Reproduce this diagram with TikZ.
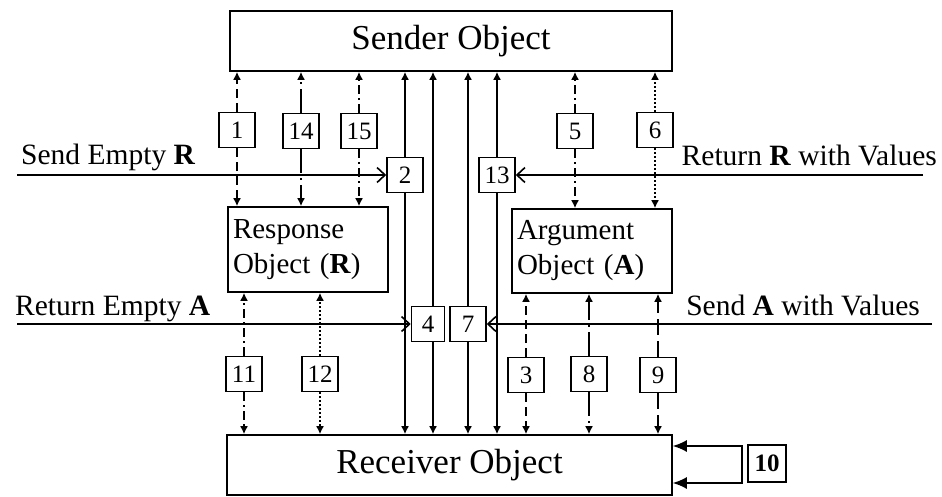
\documentclass[tikz,border=0pt]{standalone}
\usepackage{fontspec}
\setmainfont{Liberation Serif}
\usetikzlibrary{positioning}
\usetikzlibrary{arrows.meta}
\tikzset{
    objbox/.style={draw, line width=1.6pt, inner sep=0pt, font=\fontsize{35}{42}\selectfont},
    msgbox/.style={draw, line width=1.6pt, inner sep=0pt, minimum width=160pt, text width=150pt, align=left, font=\fontsize{29}{35}\selectfont},
    numbox/.style={draw, line width=1.6pt, inner sep=0pt, minimum width=36pt, minimum height=35pt, fill=white, font=\fontsize{25}{30}\selectfont},
    lbl/.style={inner sep=0pt, font=\fontsize{29.5}{35}\selectfont},
    link/.style={line width=1.6pt},
    vtip/.style={-{Latex[length=8pt,width=8pt]}},
    htip/.style={-{Straight Barb[length=8pt,width=15pt]}},
    looptip/.style={{Latex[length=14pt,width=12pt]}-{Latex[length=14pt,width=12pt]}},
    dashA/.style={dash pattern=on 9pt off 5pt},
    dotA/.style={dash pattern=on 2pt off 2pt},
    dashdotA/.style={dash pattern=on 9pt off 4pt on 2pt off 4pt},
    longdashdot/.style={dash pattern=on 24pt off 5pt on 2pt off 5pt},
    longdash/.style={dash pattern=on 16pt off 6pt}
}
\begin{document}
\begin{tikzpicture}[x=1pt,y=-1pt]
    \useasboundingbox (0,0) rectangle (942,496);
    % objects
    \node[objbox, minimum width=442pt, minimum height=60pt] (sender) at (451,41) {Sender Object};
    \node[objbox, minimum width=445pt, minimum height=60pt] (receiver) at (449.5,465) {Receiver Object};
    \node[msgbox, minimum height=85pt] (response) at (308,249.5) {Response\\Object (\textbf{R})};
    \node[msgbox, minimum height=84pt] (argument) at (592,251) {Argument\\Object (\textbf{A})};
    % numbered steps
    \node[numbox] (b1) at (237,130) {1};
    \node[numbox] (b14) at (301,131) {14};
    \node[numbox] (b15) at (359,131) {15};
    \node[numbox] (b5) at (575,131) {5};
    \node[numbox] (b6) at (655,130) {6};
    \node[numbox] (b2) at (405,175) {2};
    \node[numbox] (b13) at (497,175) {13};
    \node[numbox, minimum width=33pt] (b4) at (428,324) {4};
    \node[numbox] (b7) at (468,324) {7};
    \node[numbox] (b11) at (244,374) {11};
    \node[numbox] (b12) at (320,374) {12};
    \node[numbox] (b3) at (526,375) {3};
    \node[numbox] (b8) at (589,374) {8};
    \node[numbox] (b9) at (658,375) {9};
    \node[numbox, minimum width=38pt, minimum height=37pt, font=\fontsize{25}{30}\selectfont\bfseries] (b10) at (767,463.5) {10};
    % sender <-> response
    \draw[link, vtip, dashA] (b1) -- (b1 |- sender.south);
    \draw[link, vtip, dashA] (b1) -- (b1 |- response.north);
    \draw[link, vtip, longdashdot] (b14) -- (b14 |- sender.south);
    \draw[link, vtip, longdashdot] (b14) -- (b14 |- response.north);
    \draw[link, vtip, dashdotA] (b15) -- (b15 |- sender.south);
    \draw[link, vtip, dashdotA] (b15) -- (b15 |- response.north);
    % sender <-> argument
    \draw[link, vtip, dashdotA] (b5) -- (b5 |- sender.south);
    \draw[link, vtip, dashdotA] (b5) -- (b5 |- argument.north);
    \draw[link, vtip, dotA] (b6) -- (b6 |- sender.south);
    \draw[link, vtip, dotA] (b6) -- (b6 |- argument.north);
    % sender <-> receiver
    \foreach \b in {b2,b13,b7}{
        \draw[link, vtip] (\b) -- (\b |- sender.south);
        \draw[link, vtip] (\b) -- (\b |- receiver.north);
    }
    \coordinate (via4) at (433,324);
    \draw[link, vtip] (b4.north -| via4) -- (via4 |- sender.south);
    \draw[link, vtip] (b4.south -| via4) -- (via4 |- receiver.north);
    % receiver <-> response
    \draw[link, vtip, dashdotA] (b11) -- (b11 |- response.south);
    \draw[link, vtip, dashdotA] (b11) -- (b11 |- receiver.north);
    \draw[link, vtip, dotA] (b12) -- (b12 |- response.south);
    \draw[link, vtip, dotA] (b12) -- (b12 |- receiver.north);
    % receiver <-> argument
    \draw[link, vtip, dashA] (b3) -- (b3 |- argument.south);
    \draw[link, vtip, dashA] (b3) -- (b3 |- receiver.north);
    \draw[link, vtip, longdashdot] (b8) -- (b8 |- argument.south);
    \draw[link, vtip, longdashdot] (b8) -- (b8 |- receiver.north);
    \draw[link, vtip, longdash] (b9) -- (b9 |- argument.south);
    \draw[link, vtip, longdash] (b9) -- (b9 |- receiver.north);
    % incoming messages
    \coordinate (sendR) at (17,175);
    \coordinate (returnR) at (923,175);
    \coordinate (returnA) at (17,324);
    \coordinate (sendA) at (932,324);
    \draw[link, htip] (sendR) -- (b2);
    \draw[link, htip] (returnR) -- (b13);
    \draw[link, htip] (returnA) -- (b4);
    \draw[link, htip] (sendA) -- (b7);
    \node[lbl, anchor=base west] (sendRlbl) at (21,164) {Send Empty \textbf{R}};
    \node[lbl, anchor=base east] (returnRlbl) at (937,165) {Return \textbf{R} with Values};
    \node[lbl, anchor=base west] (returnAlbl) at (15,315) {Return Empty \textbf{A}};
    \node[lbl, anchor=base east] (sendAlbl) at (920,315) {Send \textbf{A} with Values};
    % self call
    \coordinate (loopa) at (742,446);
    \coordinate (loopb) at (742,483);
    \draw[link, looptip] (receiver.east |- loopa) -- (loopa) -- (loopb) -- (receiver.east |- loopb);
\end{tikzpicture}
\end{document}
